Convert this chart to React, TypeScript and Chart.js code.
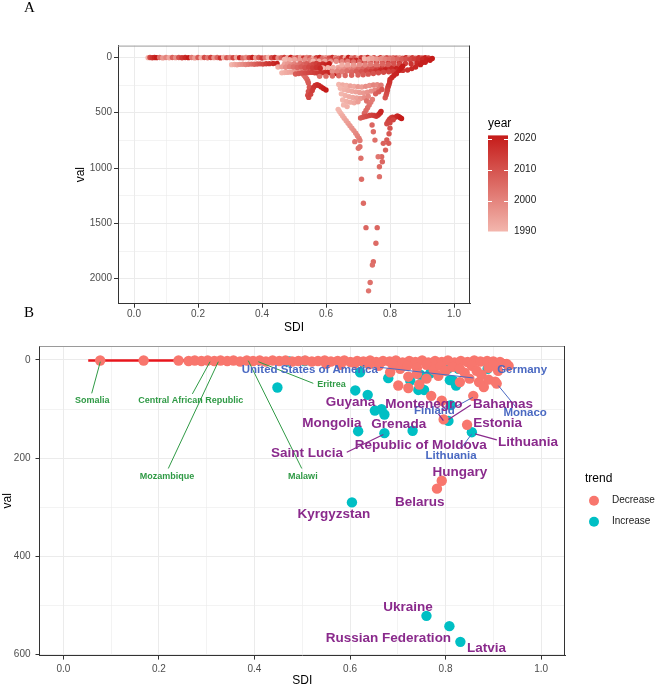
import React, { useEffect, useRef } from "react";
import { Chart, registerables } from "chart.js";

Chart.register(...registerables);

type Pt = [number, number, number]; // [SDI, val, year]
type Pair = [number, number]; // [SDI, val]

// ---------- tick values ----------
const sdiTicks = [0, 0.1, 0.2, 0.3, 0.4, 0.5, 0.6, 0.7, 0.8, 0.9, 1.0];
const valTicksA = [0, 250, 500, 750, 1000, 1250, 1500, 1750, 2000];
const valTicksB = [0, 100, 200, 300, 400, 500, 600];
const yearTicks = [1990, 2000, 2010, 2020];
const yearRange = [1990, 2021];
const trendNames = ["Decrease", "Increase"];

// ---------- panel A: country-year points ----------
const bandA: Pt[] = [
  [0.044, 3, 1990], [0.05, 2, 2012], [0.057, 4, 2016], [0.064, 1, 2019], [0.071, 3, 2021], [0.08, 2, 2004],
  [0.09, 5, 1996], [0.1, 2, 2000], [0.11, 4, 1993], [0.12, 1, 2007], [0.13, 3, 1998], [0.14, 2, 2010],
  [0.15, 4, 2015], [0.16, 1, 2018], [0.17, 3, 2021], [0.18, 2, 2002], [0.19, 5, 1995], [0.2, 2, 2008],
  [0.21, 3, 1991], [0.22, 1, 2011], [0.23, 4, 2003], [0.24, 2, 2014], [0.25, 3, 1997], [0.26, 1, 2006],
  [0.27, 5, 2017], [0.28, 2, 1992], [0.29, 3, 2009], [0.3, 1, 2001], [0.31, 4, 2013], [0.32, 2, 1994],
  [0.33, 3, 2019], [0.34, 5, 2005], [0.35, 2, 1999], [0.36, 3, 2012], [0.37, 1, 2020], [0.38, 4, 1996],
  [0.39, 2, 2008], [0.4, 6, 2015], [0.41, 3, 2002], [0.42, 1, 1990], [0.43, 4, 2011], [0.44, 2, 2018],
  [0.45, 5, 1998], [0.46, 3, 2006], [0.47, 1, 2014], [0.48, 4, 1993], [0.49, 2, 2021], [0.5, 6, 2003],
  [0.51, 3, 2010], [0.52, 1, 1995], [0.53, 5, 2016], [0.54, 2, 2000], [0.55, 4, 2008], [0.56, 7, 1992],
  [0.57, 3, 2013], [0.58, 1, 2019], [0.59, 5, 2004], [0.6, 3, 1997], [0.61, 6, 2011], [0.62, 2, 2017],
  [0.63, 4, 1999], [0.64, 8, 2006], [0.65, 3, 2014], [0.66, 5, 1991], [0.67, 2, 2020], [0.68, 6, 2002],
  [0.69, 4, 2009], [0.7, 8, 1994], [0.71, 3, 2015], [0.72, 6, 2005], [0.73, 2, 2018], [0.74, 7, 1998],
  [0.75, 4, 2012], [0.76, 9, 2001], [0.77, 3, 2016], [0.78, 6, 1996], [0.79, 4, 2010], [0.8, 8, 2021],
  [0.81, 3, 2003], [0.82, 6, 2013], [0.83, 4, 1995], [0.84, 7, 2008], [0.85, 3, 2019], [0.86, 6, 2000],
  [0.87, 4, 2014], [0.88, 8, 2006], [0.89, 3, 2017], [0.9, 5, 2011], [0.91, 4, 2020], [0.92, 6, 2015],
  [0.932, 10, 2021],
];

const fanA: Pt[] = [
  // low-SDI trajectory near 60
  [0.305, 66, 1990], [0.314, 65, 1992], [0.322, 67, 1994], [0.331, 64, 1996], [0.34, 63, 1998], [0.349, 65, 2000],
  [0.358, 62, 2002], [0.367, 61, 2004], [0.376, 63, 2006], [0.385, 60, 2008], [0.394, 59, 2010], [0.403, 61, 2012],
  [0.413, 58, 2014], [0.423, 57, 2016], [0.435, 56, 2018], [0.447, 55, 2020],
  // trajectory near 130
  [0.462, 140, 1990], [0.47, 138, 1991], [0.478, 136, 1992], [0.486, 134, 1993], [0.494, 133, 1994], [0.502, 131, 1995],
  [0.51, 130, 1996], [0.518, 128, 1997], [0.527, 127, 1998], [0.536, 126, 1999], [0.545, 125, 2000], [0.555, 124, 2001],
  [0.565, 122, 2002], [0.575, 121, 2003], [0.586, 119, 2004], [0.597, 117, 2005], [0.608, 115, 2006],
  // zig-zag trajectory
  [0.528, 150, 2003], [0.532, 165, 2004], [0.536, 180, 2005], [0.54, 196, 2006], [0.543, 214, 2007], [0.545, 232, 2008],
  [0.548, 270, 2009], [0.545, 308, 2010], [0.543, 342, 2011], [0.546, 362, 2012], [0.552, 334, 2013], [0.557, 300, 2014],
  [0.561, 272, 2015], [0.566, 254, 2016], [0.572, 248, 2017], [0.578, 255, 2018], [0.585, 268, 2019], [0.592, 282, 2020],
  [0.6, 295, 2021],
  // fan rows
  [0.47, 20, 1990], [0.486, 22, 1992], [0.502, 19, 1994], [0.518, 24, 1996], [0.534, 21, 1998], [0.55, 25, 2000],
  [0.566, 23, 2002], [0.582, 26, 2004], [0.598, 22, 2006], [0.614, 27, 2008], [0.63, 24, 2010], [0.646, 28, 2012],
  [0.662, 25, 2014], [0.678, 29, 2016], [0.694, 26, 2018], [0.71, 30, 2020],
  [0.56, 35, 1990], [0.578, 37, 1992], [0.596, 34, 1994], [0.614, 39, 1996], [0.632, 36, 1998], [0.65, 40, 2000],
  [0.668, 38, 2002], [0.686, 42, 2004], [0.704, 39, 2006], [0.722, 43, 2008], [0.74, 40, 2010], [0.758, 44, 2012],
  [0.776, 41, 2014], [0.794, 45, 2016], [0.812, 42, 2018], [0.83, 46, 2020],
  [0.72, 12, 1990], [0.733, 14, 1992], [0.746, 11, 1994], [0.759, 15, 1996], [0.772, 13, 1998], [0.785, 16, 2000],
  [0.798, 12, 2002], [0.811, 17, 2004], [0.824, 14, 2006], [0.837, 18, 2008], [0.85, 15, 2010], [0.863, 19, 2012],
  [0.876, 16, 2014], [0.889, 20, 2016], [0.902, 17, 2018], [0.915, 21, 2020],
  [0.47, 62, 1994], [0.48, 58, 1996], [0.49, 66, 1998], [0.5, 60, 2000], [0.51, 68, 2002], [0.52, 55, 2004],
  [0.53, 64, 2006], [0.54, 58, 2008], [0.55, 70, 2010], [0.56, 62, 2012], [0.57, 56, 2014], [0.58, 66, 2016],
  [0.59, 60, 2018], [0.6, 68, 2020], [0.61, 58, 2021],
  [0.59, 95, 1990], [0.606, 94, 1991], [0.622, 92, 1992], [0.638, 91, 1993], [0.654, 90, 1994], [0.67, 89, 1995],
  [0.686, 88, 1996], [0.702, 87, 1997], [0.718, 86, 1998], [0.734, 85, 1999], [0.75, 84, 2000], [0.766, 83, 2001],
  [0.782, 82, 2002], [0.798, 81, 2003], [0.814, 80, 2004], [0.83, 79, 2005],
  [0.505, 150, 2008], [0.515, 146, 2009], [0.525, 142, 2010], [0.535, 140, 2011], [0.545, 138, 2012], [0.555, 136, 2013],
  [0.565, 140, 2014], [0.575, 144, 2015], [0.585, 142, 2016], [0.595, 139, 2017], [0.605, 137, 2018], [0.615, 141, 2019],
  [0.625, 145, 2020], [0.635, 148, 2021],
  [0.64, 108, 1996], [0.655, 106, 1998], [0.67, 110, 2000], [0.685, 104, 2002], [0.7, 108, 2004], [0.715, 102, 2006],
  [0.73, 106, 2008], [0.745, 100, 2010], [0.76, 104, 2012], [0.775, 98, 2014], [0.79, 102, 2016], [0.805, 96, 2018],
  [0.82, 100, 2020],
  [0.65, 68, 1992], [0.668, 66, 1994], [0.686, 70, 1996], [0.704, 64, 1998], [0.722, 68, 2000], [0.74, 62, 2002],
  [0.758, 66, 2004], [0.776, 60, 2006], [0.794, 64, 2008], [0.812, 58, 2010], [0.83, 62, 2012], [0.848, 56, 2014],
  [0.866, 58, 2016], [0.884, 52, 2018], [0.9, 48, 2020],
  [0.45, 88, 1992], [0.462, 86, 1995], [0.474, 90, 1998], [0.486, 84, 2001], [0.498, 88, 2004], [0.51, 92, 2006],
  [0.522, 86, 2008], [0.534, 94, 2010], [0.546, 90, 2012], [0.558, 96, 2014], [0.57, 92, 2016], [0.582, 98, 2018],
  [0.62, 128, 1998], [0.635, 126, 2000], [0.65, 130, 2002], [0.665, 124, 2004], [0.68, 132, 2006], [0.695, 126, 2008],
  [0.71, 130, 2010], [0.725, 124, 2012], [0.74, 128, 2014], [0.755, 122, 2016], [0.77, 118, 2018], [0.785, 114, 2020],
  // lower edge of the fan
  [0.58, 172, 2004], [0.6, 170, 2005], [0.62, 168, 2005], [0.64, 166, 2006], [0.66, 164, 2006], [0.68, 162, 2007],
  [0.7, 160, 2007], [0.716, 158, 2008], [0.732, 152, 2009], [0.748, 146, 2010], [0.764, 140, 2011], [0.78, 135, 2012],
  [0.796, 130, 2013], [0.81, 127, 2014], [0.825, 122, 2015], [0.84, 118, 2016], [0.855, 114, 2017], [0.868, 102, 2018],
  [0.88, 88, 2019], [0.895, 66, 2020], [0.91, 45, 2020], [0.925, 26, 2021],
];

const clusterA: Pt[] = [
  // light central cluster
  [0.64, 245, 1990], [0.652, 250, 1992], [0.664, 255, 1991], [0.676, 258, 1994], [0.688, 262, 1993], [0.7, 265, 1996],
  [0.712, 268, 1995], [0.724, 262, 1998], [0.736, 255, 1997], [0.748, 250, 2000], [0.76, 248, 1999], [0.772, 252, 2002],
  [0.645, 280, 1990], [0.657, 292, 1991], [0.669, 300, 1992], [0.681, 306, 1993], [0.693, 312, 1994], [0.705, 318, 1995],
  [0.717, 322, 1996], [0.729, 315, 1997], [0.741, 305, 1998], [0.753, 295, 1999], [0.765, 288, 2001],
  [0.648, 330, 1990], [0.66, 345, 1991], [0.672, 355, 1992], [0.684, 362, 1993], [0.696, 368, 1994], [0.708, 372, 1996],
  [0.72, 365, 1998], [0.732, 352, 1999],
  [0.652, 385, 1990], [0.664, 398, 1991], [0.676, 405, 1992], [0.688, 410, 1993], [0.7, 402, 1995],
  [0.655, 430, 1990], [0.666, 445, 1991], [0.638, 470, 1990],
  // light diagonal
  [0.642, 490, 1990], [0.647, 510, 1991], [0.652, 530, 1992], [0.657, 550, 1993], [0.663, 572, 1994], [0.669, 595, 1995],
  [0.675, 618, 1996], [0.681, 640, 1997], [0.687, 662, 1998], [0.693, 685, 1999], [0.698, 708, 2000], [0.703, 730, 2001],
  [0.706, 752, 2002],
  // medium run leading into the first dark cluster
  [0.727, 395, 2004], [0.745, 380, 2001], [0.74, 405, 2002], [0.735, 430, 2003], [0.73, 455, 2004], [0.725, 480, 2005],
  [0.72, 505, 2006], [0.755, 330, 2007], [0.765, 312, 2008], [0.775, 290, 2009],
  // dark cluster near 530
  [0.708, 548, 2008], [0.715, 542, 2009], [0.722, 536, 2010], [0.729, 531, 2011], [0.736, 526, 2012], [0.743, 522, 2013],
  [0.75, 526, 2014], [0.757, 532, 2015], [0.762, 524, 2016], [0.766, 512, 2017], [0.77, 500, 2018], [0.772, 488, 2019],
  // darkest cluster near 550
  [0.79, 600, 2011], [0.794, 580, 2012], [0.798, 562, 2013], [0.803, 548, 2014], [0.808, 540, 2015], [0.813, 546, 2016],
  [0.818, 538, 2017], [0.823, 530, 2018], [0.828, 536, 2019], [0.832, 545, 2020], [0.836, 552, 2021], [0.8, 590, 2012],
  [0.81, 565, 2013],
  // dark run rising towards the fan
  [0.785, 365, 2009], [0.788, 340, 2010], [0.79, 320, 2011], [0.792, 297, 2012], [0.793, 275, 2013], [0.795, 258, 2014],
  [0.797, 244, 2015], [0.799, 222, 2016], [0.8, 200, 2017], [0.806, 182, 2018], [0.812, 165, 2019], [0.82, 148, 2019],
  [0.828, 118, 2020], [0.835, 96, 2021], [0.84, 79, 2021],
];

const tailA: Pt[] = [
  [0.8, 640, 2010], [0.797, 690, 2009], [0.79, 747, 2008], [0.796, 777, 2008], [0.779, 777, 2007], [0.786, 838, 2007],
  [0.776, 943, 2006], [0.774, 898, 2006], [0.767, 988, 2005], [0.767, 1078, 2004],
  [0.744, 612, 2006], [0.748, 672, 2005], [0.753, 748, 2004], [0.763, 898, 2003],
  [0.69, 762, 2003], [0.706, 807, 2004], [0.701, 822, 2004], [0.709, 912, 2004], [0.711, 1102, 2005],
  [0.717, 1319, 2005], [0.725, 1539, 2006],
  [0.76, 1539, 2006], [0.756, 1680, 2005], [0.748, 1846, 2005], [0.745, 1876, 2004], [0.738, 2035, 2004],
  [0.733, 2110, 2003],
];

const fitLineA: Pair[] = [[0.051, 0], [0.92, 0]];

// ---------- panel B: average annual change by trend ----------
const decreaseB: Pair[] = [
  [0.077, 1], [0.168, 1], [0.241, 1], [0.262, 2], [0.275, 1], [0.289, 2], [0.302, 1], [0.316, 2], [0.329, 1],
  [0.343, 2], [0.356, 1], [0.37, 3], [0.384, 1], [0.397, 2], [0.411, 1], [0.424, 3], [0.438, 1], [0.452, 2],
  [0.465, 1], [0.479, 3], [0.492, 2], [0.506, 1], [0.52, 3], [0.533, 2], [0.547, 1], [0.56, 3], [0.574, 2],
  [0.588, 1], [0.601, 4], [0.615, 2], [0.628, 3], [0.642, 1], [0.655, 4], [0.669, 2], [0.683, 3], [0.696, 1],
  [0.71, 5], [0.724, 2], [0.737, 4], [0.751, 1], [0.764, 5], [0.778, 2], [0.792, 4], [0.805, 1], [0.819, 5],
  [0.832, 2], [0.846, 4], [0.86, 1], [0.873, 3], [0.887, 2], [0.9, 3], [0.914, 4], [0.928, 8],
  [0.55, 8], [0.58, 10], [0.61, 7], [0.64, 9], [0.66, 12], [0.69, 10], [0.705, 18], [0.72, 12], [0.74, 16],
  [0.76, 10], [0.775, 20], [0.79, 12], [0.8, 22], [0.815, 14], [0.83, 18], [0.84, 26], [0.855, 12], [0.865, 22],
  [0.875, 30], [0.89, 16], [0.9, 10], [0.91, 22], [0.932, 12],
  [0.684, 25], [0.701, 52], [0.722, 57], [0.722, 34], [0.74, 28], [0.77, 73], [0.792, 83], [0.858, 73],
  [0.83, 45], [0.85, 38], [0.87, 45], [0.88, 55], [0.89, 40], [0.904, 44], [0.907, 48], [0.76, 38], [0.785, 32],
  [0.745, 50],
  [0.796, 121], [0.845, 132], [0.792, 246], [0.782, 262],
];

const increaseB: Pair[] = [
  [0.473, 3], [0.505, 2], [0.448, 56], [0.628, 5], [0.621, 25], [0.611, 62], [0.637, 71], [0.652, 103],
  [0.666, 100], [0.672, 111], [0.617, 145], [0.672, 149], [0.731, 144], [0.68, 37], [0.726, 42], [0.747, 30],
  [0.768, 27], [0.743, 61], [0.755, 61], [0.806, 124], [0.811, 92], [0.827, 18], [0.816, 42], [0.822, 52],
  [0.809, 41], [0.855, 147], [0.888, 18], [0.806, 17], [0.604, 290], [0.76, 521], [0.808, 542], [0.831, 574],
];

const fitLineB: Pair[] = [[0.052, 1], [0.93, 1]];

// ---------- country labels for panel B (ggrepel-style placement) ----------
type Group = "low" | "mid" | "high";
type CountryLabel = { text: string; group: Group; at: Pair; seg?: [Pair, Pair] };

const countryLabels: CountryLabel[] = [
  { text: "Somalia", group: "low", at: [0.0605, 82.8], seg: [[0.0593, 67.9], [0.0773, 3.5]] },
  { text: "Central African Republic", group: "low", at: [0.2665, 82.8], seg: [[0.27, 69.1], [0.307, 3.5]] },
  { text: "Mozambique", group: "low", at: [0.2169, 237.3], seg: [[0.2196, 221], [0.3243, 3.5]] },
  { text: "Malawi", group: "low", at: [0.5013, 237.3], seg: [[0.499, 221], [0.387, 1.4]] },
  { text: "Eritrea", group: "low", at: [0.561, 50.8], seg: [[0.5232, 47.6], [0.408, 3.5]] },
  { text: "United States of America", group: "mid", at: [0.5159, 19.7], seg: [[0.6629, 15], [0.8582, 36.6]] },
  { text: "Germany", group: "mid", at: [0.9602, 19.7] },
  { text: "Monaco", group: "mid", at: [0.9665, 108.6], seg: [[0.9477, 96.4], [0.9106, 52.3]] },
  { text: "Finland", group: "mid", at: [0.7766, 104.5], seg: [[0.8185, 96.4], [0.857, 76.1]] },
  { text: "Lithuania", group: "mid", at: [0.8116, 196], seg: [[0.834, 177.7], [0.855, 150.5]] },
  { text: "Guyana", group: "high", at: [0.6011, 86.2] },
  { text: "Montenegro", group: "high", at: [0.7546, 89.5], seg: [[0.785, 109.8], [0.7954, 123.4]] },
  { text: "Bahamas", group: "high", at: [0.9204, 89.5], seg: [[0.8528, 91.5], [0.8059, 121.4]] },
  { text: "Mongolia", group: "high", at: [0.5618, 128.1] },
  { text: "Grenada", group: "high", at: [0.702, 130.2] },
  { text: "Estonia", group: "high", at: [0.9089, 128.1] },
  { text: "Saint Lucia", group: "high", at: [0.51, 190], seg: [[0.5932, 187.9], [0.6698, 151.9]] },
  { text: "Republic of Moldova", group: "high", at: [0.7481, 174.3] },
  { text: "Lithuania", group: "high", at: [0.9728, 167.6], seg: [[0.9072, 162.7], [0.8618, 150.5]] },
  { text: "Hungary", group: "high", at: [0.8298, 228.6] },
  { text: "Belarus", group: "high", at: [0.746, 289.6] },
  { text: "Kyrgyzstan", group: "high", at: [0.566, 315.2] },
  { text: "Ukraine", group: "high", at: [0.7215, 503.8] },
  { text: "Russian Federation", group: "high", at: [0.6805, 567.4] },
  { text: "Latvia", group: "high", at: [0.8855, 587.8] },
];

// ---------- styling ----------
const FONT = "'Liberation Sans', Arial, Helvetica, sans-serif";
const SERIF = "'Liberation Serif', 'Times New Roman', serif";
const DECREASE = "#F8766D";
const INCREASE = "#00BFC4";
const groupStyle: Record<Group, { color: string; size: number; lw: number }> = {
  low: { color: "#2F9A45", size: 9, lw: 1 },
  mid: { color: "#4A69C2", size: 11.5, lw: 1 },
  high: { color: "#8A2A8C", size: 13.5, lw: 1.2 },
};
const yearLow = [243, 182, 173];
const yearHigh = [197, 27, 25];

function yearColor(y: number): string {
  const t = Math.min(1, Math.max(0, (y - yearRange[0]) / (yearRange[1] - yearRange[0])));
  const c = yearLow.map((l, i) => Math.round(l + (yearHigh[i] - l) * t));
  return `rgb(${c[0]},${c[1]},${c[2]})`;
}

const majorSdi = (v: number) => Math.round(v * 10) % 2 === 0;

function axis(cfg: {
  ticks: number[];
  major: (v: number) => boolean;
  fmt: (v: number) => string;
  min: number;
  max: number;
  reverse?: boolean;
  title: string;
  tickLength: number;
  padding: number;
  size: number;
  horizontal: boolean;
}) {
  return {
    type: "linear" as const,
    min: cfg.min,
    max: cfg.max,
    reverse: !!cfg.reverse,
    afterBuildTicks: (s: any) => {
      s.ticks = cfg.ticks.map((v) => ({ value: v }));
    },
    afterFit: (s: any) => {
      if (cfg.horizontal) s.height = cfg.size;
      else s.width = cfg.size;
    },
    ticks: {
      autoSkip: false,
      maxRotation: 0,
      minRotation: 0,
      padding: cfg.padding,
      color: "#4D4D4D",
      font: { family: FONT, size: 10 },
      callback: (v: any) => (cfg.major(Number(v)) ? cfg.fmt(Number(v)) : ""),
    },
    grid: {
      color: "#EBEBEB",
      lineWidth: (c: any) => (c.tick && cfg.major(c.tick.value) ? 1 : 0.6),
      tickColor: (c: any) => (c.tick && cfg.major(c.tick.value) ? "#333333" : "rgba(0,0,0,0)"),
      tickWidth: 1,
      tickLength: cfg.tickLength,
      drawTicks: true,
    },
    border: { display: true, color: "#333333", width: 1 },
    title: {
      display: true,
      text: cfg.title,
      color: "#000000",
      font: { family: FONT, size: 12 },
      padding: { top: 0, bottom: 0 },
    },
  };
}

const panelBorder = {
  id: "panelBorder",
  afterDraw(chart: any) {
    const { ctx, chartArea } = chart;
    const { left, top, right, bottom } = chartArea;
    ctx.save();
    ctx.lineWidth = 1;
    ctx.strokeStyle = "#9A9A9A";
    ctx.beginPath();
    ctx.moveTo(left, top + 0.5);
    ctx.lineTo(right, top + 0.5);
    ctx.stroke();
    ctx.strokeStyle = "#333333";
    ctx.beginPath();
    ctx.moveTo(right - 0.5, top);
    ctx.lineTo(right - 0.5, bottom);
    ctx.stroke();
    ctx.restore();
  },
};

// panel letters and the year colour bar
const yearLegend = {
  id: "yearLegend",
  afterDraw(chart: any) {
    const { ctx } = chart;
    ctx.save();
    ctx.fillStyle = "#000";
    ctx.font = `15px ${SERIF}`;
    ctx.textBaseline = "middle";
    ctx.textAlign = "left";
    ctx.fillText("A", 24, 8);
    ctx.fillText("B", 24, 313.5);

    const x0 = 488;
    const w = 20;
    const yOf = (yr: number) => 231.5 - (yr - yearRange[0]) * 3.1;
    const yTop = yOf(yearRange[1]);
    const yBot = yOf(yearRange[0]);
    const g = ctx.createLinearGradient(0, yTop, 0, yBot);
    g.addColorStop(0, yearColor(yearRange[1]));
    g.addColorStop(0.5, yearColor((yearRange[0] + yearRange[1]) / 2));
    g.addColorStop(1, yearColor(yearRange[0]));
    ctx.fillStyle = g;
    ctx.fillRect(x0, yTop, w, yBot - yTop);

    ctx.strokeStyle = "#FFFFFF";
    ctx.lineWidth = 1;
    yearTicks.forEach((yr) => {
      const y = Math.round(yOf(yr)) + 0.5;
      ctx.beginPath();
      ctx.moveTo(x0, y);
      ctx.lineTo(x0 + 4, y);
      ctx.moveTo(x0 + w - 4, y);
      ctx.lineTo(x0 + w, y);
      ctx.stroke();
    });

    ctx.fillStyle = "#000";
    ctx.font = `12px ${FONT}`;
    ctx.fillText("year", x0, 124);
    ctx.fillStyle = "#1A1A1A";
    ctx.font = `10px ${FONT}`;
    yearTicks.forEach((yr) => ctx.fillText(String(yr), 514, yOf(yr)));
    ctx.restore();
  },
};

// country labels with leader segments, plus the trend key
const trendOverlay = {
  id: "trendOverlay",
  afterDraw(chart: any) {
    const { ctx } = chart;
    const xs = chart.scales.x;
    const ys = chart.scales.y;
    const px = (p: Pair): Pair => [xs.getPixelForValue(p[0]), ys.getPixelForValue(p[1])];
    ctx.save();
    countryLabels.forEach((l) => {
      if (!l.seg) return;
      const st = groupStyle[l.group];
      const a = px(l.seg[0]);
      const b = px(l.seg[1]);
      ctx.strokeStyle = st.color;
      ctx.lineWidth = st.lw;
      ctx.beginPath();
      ctx.moveTo(a[0], a[1]);
      ctx.lineTo(b[0], b[1]);
      ctx.stroke();
    });
    ctx.textAlign = "center";
    ctx.textBaseline = "middle";
    countryLabels.forEach((l) => {
      const st = groupStyle[l.group];
      const p = px(l.at);
      ctx.fillStyle = st.color;
      ctx.font = `bold ${st.size}px ${FONT}`;
      ctx.fillText(l.text, p[0], p[1]);
    });

    // key
    ctx.textAlign = "left";
    ctx.fillStyle = "#000";
    ctx.font = `12px ${FONT}`;
    ctx.fillText("trend", 585, 144);
    const keyColors = [DECREASE, INCREASE];
    trendNames.forEach((name, i) => {
      const y = 165.7 + i * 21;
      ctx.fillStyle = keyColors[i];
      ctx.beginPath();
      ctx.arc(594, y, 5, 0, Math.PI * 2);
      ctx.fill();
      ctx.fillStyle = "#1A1A1A";
      ctx.font = `10px ${FONT}`;
      ctx.fillText(name, 612, y);
    });
    ctx.restore();
  },
};

const toXY = (arr: Pair[] | Pt[]) => arr.map((p) => ({ x: p[0], y: p[1] }));

export default function App() {
  const refA = useRef<HTMLCanvasElement | null>(null);
  const refB = useRef<HTMLCanvasElement | null>(null);

  useEffect(() => {
    if (!refA.current || !refB.current) return;
    const pointsA: Pt[] = [...bandA, ...fanA, ...clusterA, ...tailA];

    const chartA = new Chart(refA.current, {
      type: "scatter",
      data: {
        datasets: [
          {
            type: "scatter",
            data: toXY(pointsA),
            pointRadius: 2.7,
            pointHoverRadius: 2.7,
            pointBackgroundColor: pointsA.map((p) => yearColor(p[2])),
            pointBorderWidth: 0,
            borderWidth: 0,
          } as any,
          {
            type: "line",
            data: toXY(fitLineA),
            borderColor: "#000000",
            borderWidth: 2,
            pointRadius: 0,
            fill: false,
          } as any,
        ],
      },
      options: {
        animation: false,
        responsive: false,
        events: [],
        layout: { padding: { left: 73.8, top: 45.6, right: 188, bottom: 0 } },
        plugins: { legend: { display: false }, tooltip: { enabled: false } },
        scales: {
          x: axis({
            ticks: sdiTicks, major: majorSdi, fmt: (v) => v.toFixed(1), min: -0.05, max: 1.05,
            title: "SDI", tickLength: 4, padding: 1, size: 31.3, horizontal: true,
          }),
          y: axis({
            ticks: valTicksA, major: (v) => v % 500 === 0, fmt: (v) => String(v), min: -106, max: 2226,
            reverse: true, title: "val", tickLength: 4, padding: 2, size: 44.2, horizontal: false,
          }),
        } as any,
      },
      plugins: [panelBorder, yearLegend],
    });

    const chartB = new Chart(refB.current, {
      type: "scatter",
      data: {
        datasets: [
          {
            type: "scatter",
            data: toXY(decreaseB),
            pointRadius: 5.2,
            pointHoverRadius: 5.2,
            pointBackgroundColor: DECREASE,
            pointBorderWidth: 0,
            borderWidth: 0,
          } as any,
          {
            type: "scatter",
            data: toXY(increaseB),
            pointRadius: 5.2,
            pointHoverRadius: 5.2,
            pointBackgroundColor: INCREASE,
            pointBorderWidth: 0,
            borderWidth: 0,
          } as any,
          {
            type: "line",
            data: toXY(fitLineB),
            borderColor: "#E8161D",
            borderWidth: 2.7,
            pointRadius: 0,
            fill: false,
          } as any,
        ],
      },
      options: {
        animation: false,
        responsive: false,
        events: [],
        layout: { padding: { left: 0.8, top: 10.2, right: 93, bottom: 0 } },
        plugins: { legend: { display: false }, tooltip: { enabled: false } },
        scales: {
          x: axis({
            ticks: sdiTicks, major: majorSdi, fmt: (v) => v.toFixed(1), min: -0.05, max: 1.05,
            title: "SDI", tickLength: 4, padding: 4, size: 32.4, horizontal: true,
          }),
          y: axis({
            ticks: valTicksB, major: (v) => v % 200 === 0, fmt: (v) => String(v), min: -28.5, max: 602,
            reverse: true, title: "val", tickLength: 4, padding: 5, size: 38.7, horizontal: false,
          }),
        } as any,
      },
      plugins: [panelBorder, trendOverlay],
    });

    return () => {
      chartA.destroy();
      chartB.destroy();
    };
  }, []);

  return (
    <div style={{ position: "absolute", left: 0, top: 0, width: 658, height: 688, background: "#FFFFFF" }}>
      <canvas ref={refA} width={658} height={335} style={{ position: "absolute", left: 0, top: 0 }} />
      <canvas ref={refB} width={658} height={353} style={{ position: "absolute", left: 0, top: 335 }} />
    </div>
  );
}
